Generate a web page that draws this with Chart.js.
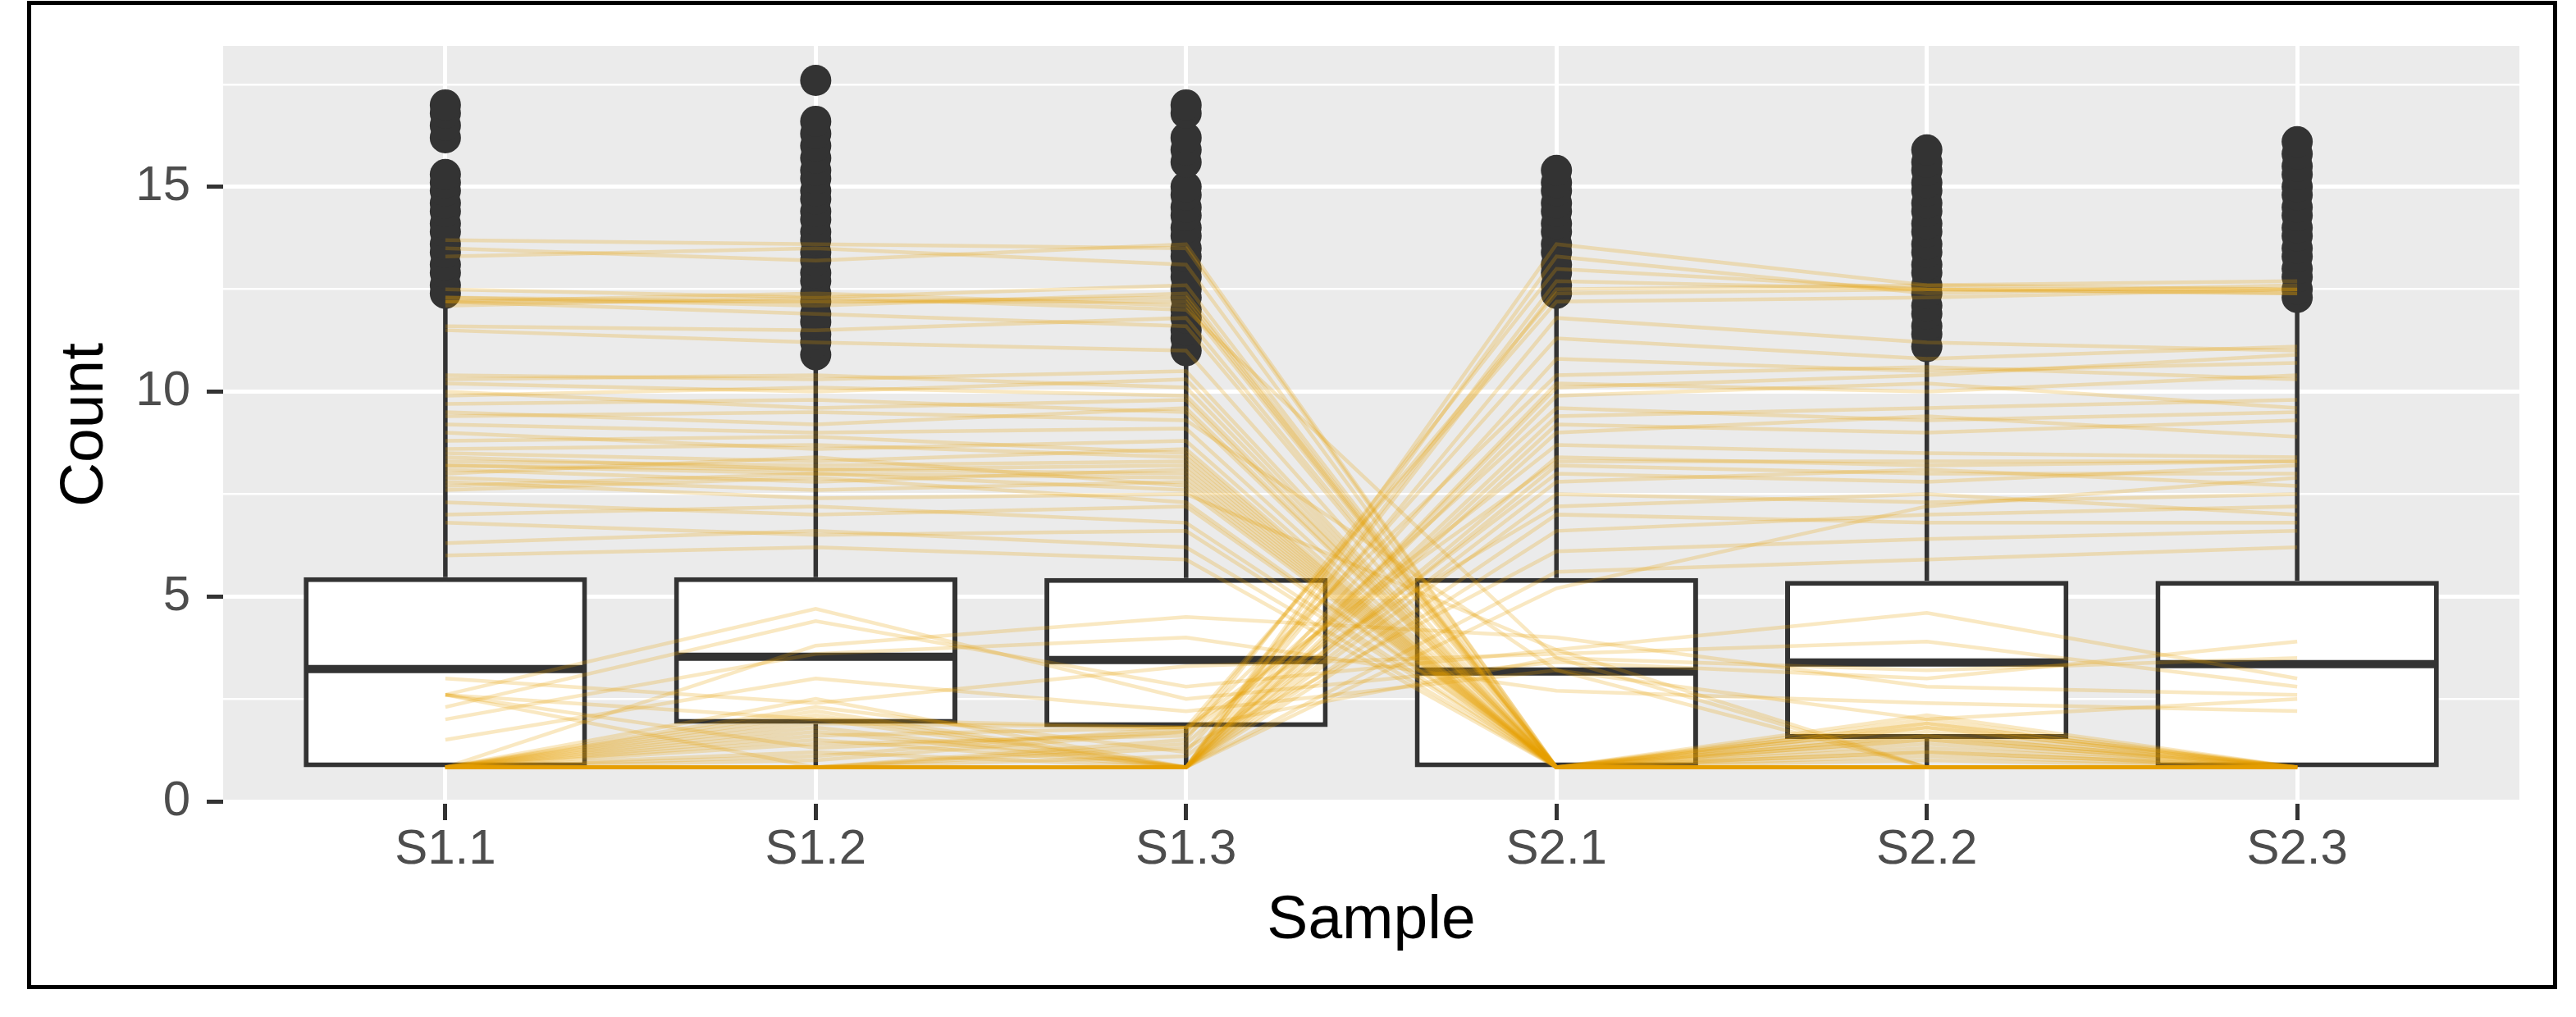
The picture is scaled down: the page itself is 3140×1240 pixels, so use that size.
<!DOCTYPE html>
<html>
<head>
<meta charset="utf-8">
<script src="https://cdn.jsdelivr.net/npm/chart.js@4.4.1/dist/chart.umd.min.js"></script>
<style>
  html, body { margin: 0; padding: 0; background: #FFFFFF; overflow: hidden; }
  #frame { position: absolute; left: 33px; top: 1px; width: 3084px; height: 1205px; box-sizing: border-box; border: 5px solid #000000; }
  #chart { position: absolute; left: 0; top: 0; width: 3140px; height: 1240px; }
</style>
</head>
<body>
<div id="frame"></div>
<canvas id="chart" width="3140" height="1240"></canvas>
<script>
// ---------- data ----------
const categories = ['S1.1', 'S1.2', 'S1.3', 'S2.1', 'S2.2', 'S2.3'];
const yMajorTicks = [0, 5, 10, 15];
const yMinorTicks = [2.5, 7.5, 12.5, 17.5];

// box statistics per sample
const whiskerLow = [0.83, 0.83, 0.83, 0.83, 0.83, 0.83];
const quartile1  = [0.83, 1.89, 1.81, 0.83, 1.52, 0.83];
const medians    = [3.23, 3.53, 3.45, 3.17, 3.39, 3.35];
const quartile3  = [5.47, 5.47, 5.45, 5.45, 5.38, 5.38];
const whiskerHigh = [12.1, 10.6, 10.7, 12.07, 10.83, 12.0];

// outliers per sample
const outliersS11 = [12.4, 12.6, 12.9, 13.1, 13.4, 13.6, 13.9, 14.1, 14.4, 14.6, 14.9, 15.1, 15.3, 16.2, 16.5, 16.8, 17.0];
const outliersS12 = [10.9, 11.2, 11.4, 11.7, 11.9, 12.2, 12.4, 12.7, 12.9, 13.2, 13.4, 13.7, 13.9, 14.2, 14.4, 14.7, 14.9, 15.2, 15.4, 15.7, 16.0, 16.3, 16.6, 17.6];
const outliersS13 = [11.0, 11.3, 11.5, 11.8, 12.0, 12.3, 12.5, 12.8, 13.0, 13.3, 13.5, 13.8, 14.0, 14.3, 14.5, 14.8, 15.0, 15.6, 15.9, 16.2, 16.8, 17.0];
const outliersS21 = [12.4, 12.6, 12.9, 13.1, 13.4, 13.6, 13.9, 14.1, 14.4, 14.6, 14.9, 15.1, 15.4];
const outliersS22 = [11.1, 11.4, 11.6, 11.9, 12.1, 12.4, 12.6, 12.9, 13.1, 13.4, 13.6, 13.9, 14.1, 14.4, 14.6, 14.9, 15.1, 15.4, 15.6, 15.9];
const outliersS23 = [12.3, 12.5, 12.8, 13.0, 13.3, 13.5, 13.8, 14.0, 14.3, 14.5, 14.8, 15.0, 15.3, 15.5, 15.8, 16.1];
const outliers = [outliersS11, outliersS12, outliersS13, outliersS21, outliersS22, outliersS23];

// gene profiles (one value per sample, S1.1 ... S2.3)
const genesDownInS2 = [
  [13.7, 13.6, 13.5, 0.83, 0.83, 0.83],
  [13.5, 13.2, 13.6, 0.83, 1.2, 0.83],
  [13.3, 13.5, 13.1, 0.83, 0.83, 0.83],
  [12.5, 12.3, 12.6, 0.83, 1.6, 0.83],
  [12.3, 12.2, 12.3, 0.83, 0.83, 0.83],
  [12.2, 12.4, 12.1, 0.83, 1.9, 0.83],
  [12.3, 12.1, 12.4, 0.83, 0.83, 0.83],
  [12.1, 12.3, 12.0, 3.5, 0.83, 0.83],
  [12.2, 11.9, 11.6, 0.83, 1.4, 0.83],
  [11.6, 11.5, 11.8, 0.83, 0.83, 0.83],
  [11.5, 11.2, 11.0, 0.83, 2.0, 0.83],
  [10.4, 10.3, 10.5, 0.83, 0.83, 0.83],
  [10.3, 10.4, 10.1, 0.83, 1.7, 0.83],
  [10.2, 10.0, 10.3, 0.83, 0.83, 0.83],
  [10.0, 9.6, 9.8, 0.83, 1.2, 0.83],
  [9.7, 9.8, 9.5, 0.83, 0.83, 0.83],
  [9.5, 9.2, 9.6, 0.83, 1.9, 0.83],
  [9.4, 9.5, 9.3, 3.2, 0.83, 0.83],
  [9.2, 9.0, 9.1, 0.83, 0.83, 0.83],
  [9.0, 8.6, 8.8, 0.83, 1.5, 0.83],
  [8.8, 8.9, 8.5, 0.83, 0.83, 0.83],
  [8.5, 8.3, 8.6, 0.83, 0.83, 0.83],
  [8.4, 8.1, 8.0, 0.83, 1.8, 0.83],
  [8.3, 8.2, 8.3, 0.83, 0.83, 0.83],
  [8.2, 8.0, 7.9, 0.83, 1.3, 0.83],
  [8.1, 7.8, 8.1, 0.83, 0.83, 0.83],
  [8.0, 8.4, 7.7, 0.83, 0.83, 0.83],
  [7.9, 7.6, 7.8, 0.83, 1.6, 0.83],
  [7.8, 7.4, 7.5, 3.7, 0.83, 0.83],
  [7.6, 7.9, 7.3, 0.83, 0.83, 0.83],
  [7.3, 7.0, 7.2, 0.83, 2.1, 0.83],
  [7.0, 7.2, 6.8, 0.83, 0.83, 0.83],
  [6.8, 6.5, 6.6, 0.83, 0.83, 0.83],
  [6.3, 6.6, 6.2, 0.83, 1.1, 0.83],
  [6.0, 6.2, 5.9, 0.83, 0.83, 0.83],
  [8.2, 8.1, 8.2, 0.83, 1.0, 0.83],
  [12.2, 12.2, 12.2, 0.83, 0.83, 0.83],
  [9.9, 10.1, 9.9, 0.83, 1.5, 0.83],
  [7.7, 8.0, 7.6, 0.83, 0.83, 0.83],
  [8.6, 8.7, 8.4, 0.83, 1.8, 0.83]
];
const genesUpInS2 = [
  [0.83, 0.83, 0.83, 13.6, 12.6, 12.5],
  [0.83, 1.2, 0.83, 13.3, 12.4, 12.6],
  [0.83, 0.83, 1.5, 13.0, 12.5, 12.4],
  [0.83, 2.0, 0.83, 12.7, 12.5, 12.5],
  [0.83, 0.83, 0.83, 12.5, 12.6, 12.7],
  [0.83, 1.6, 1.8, 12.2, 12.3, 12.5],
  [0.83, 0.83, 0.83, 11.8, 11.2, 11.0],
  [0.83, 2.3, 1.2, 11.3, 10.8, 11.1],
  [0.83, 0.83, 0.83, 10.8, 10.5, 10.7],
  [0.83, 1.0, 1.7, 10.4, 10.6, 10.3],
  [0.83, 0.83, 0.83, 10.2, 10.0, 10.4],
  [0.83, 1.8, 0.83, 9.9, 10.2, 9.6],
  [0.83, 0.83, 1.4, 9.6, 9.3, 9.5],
  [0.83, 2.5, 0.83, 9.2, 9.0, 9.3],
  [0.83, 0.83, 0.83, 9.0, 9.4, 8.9],
  [0.83, 1.4, 1.6, 8.7, 8.5, 8.4],
  [0.83, 0.83, 0.83, 8.4, 8.2, 8.3],
  [0.83, 2.1, 0.83, 8.2, 8.0, 8.0],
  [0.83, 0.83, 1.1, 8.0, 7.8, 8.2],
  [0.83, 1.7, 0.83, 7.8, 8.1, 7.7],
  [0.83, 0.83, 0.83, 7.5, 7.3, 7.5],
  [0.83, 1.1, 1.8, 7.2, 7.5, 7.0],
  [0.83, 0.83, 0.83, 7.0, 6.8, 6.8],
  [0.83, 2.2, 0.83, 6.6, 7.0, 7.2],
  [0.83, 0.83, 1.3, 6.1, 6.4, 6.6],
  [0.83, 1.5, 0.83, 5.6, 5.9, 6.2],
  [2.6, 0.83, 0.83, 9.4, 9.6, 9.8],
  [2.6, 1.3, 1.7, 12.4, 12.5, 12.4],
  [0.83, 0.83, 0.83, 5.2, 7.2, 7.9],
  [0.83, 1.9, 1.8, 8.3, 8.3, 8.3],
  [0.83, 0.83, 0.83, 10.1, 10.4, 10.9]
];
const genesMidRange = [
  [2.6, 4.7, 2.5, 3.4, 3.0, 3.9],
  [2.3, 4.4, 2.8, 3.7, 4.6, 3.0],
  [2.0, 3.6, 4.0, 2.7, 2.4, 2.2],
  [3.0, 2.4, 3.3, 3.6, 3.9, 2.8],
  [1.5, 3.0, 2.2, 3.2, 2.0, 2.5],
  [2.6, 2.0, 1.8, 3.5, 3.2, 3.5],
  [0.83, 3.8, 4.5, 4.0, 2.8, 2.6]
];

// ---------- styling ----------
const FONT = "'Liberation Sans', Arial, Helvetica, sans-serif";
const BOX_HALF = 0.38;
const LINE_COLOR = 'rgba(230, 159, 0, 0.24)';
const DARK = '#333333';

// ---------- datasets built from the arrays ----------
const geneDatasets = [...genesDownInS2, ...genesUpInS2, ...genesMidRange].map(vals => ({
  type: 'line',
  data: vals.map((v, i) => ({ x: i, y: v })),
  borderColor: LINE_COLOR,
  borderWidth: 4.5,
  pointRadius: 0,
  fill: false,
  tension: 0,
  order: 0
}));

const outlierData = [];
outliers.forEach((arr, i) => arr.forEach(v => outlierData.push({ x: i, y: v })));

const medianData = [];
const whiskerData = [];
categories.forEach((c, i) => {
  medianData.push({ x: i - BOX_HALF, y: medians[i] }, { x: i + BOX_HALF, y: medians[i] }, { x: i, y: null });
  whiskerData.push({ x: i, y: quartile3[i] }, { x: i, y: whiskerHigh[i] }, { x: i, y: null });
  whiskerData.push({ x: i, y: whiskerLow[i] }, { x: i, y: quartile1[i] }, { x: i, y: null });
});

const boxData = categories.map((c, i) => ({ x: i, y: [quartile1[i], quartile3[i]] }));

const panelBackground = {
  id: 'panelBackground',
  beforeDraw(chart) {
    const { ctx, chartArea } = chart;
    ctx.save();
    ctx.fillStyle = '#EBEBEB';
    ctx.fillRect(chartArea.left, chartArea.top, chartArea.right - chartArea.left, chartArea.bottom - chartArea.top);
    ctx.restore();
  }
};

const yTicksAll = [...yMajorTicks, ...yMinorTicks].sort((a, b) => a - b);
const isMajor = v => yMajorTicks.includes(v);

new Chart(document.getElementById('chart'), {
  type: 'scatter',
  data: {
    datasets: [
      ...geneDatasets,
      {
        type: 'scatter',
        data: outlierData,
        pointRadius: 19,
        pointBackgroundColor: DARK,
        pointBorderWidth: 0,
        order: 1
      },
      {
        type: 'line',
        data: medianData,
        borderColor: DARK,
        borderWidth: 10,
        pointRadius: 0,
        spanGaps: false,
        order: 2
      },
      {
        type: 'bar',
        data: boxData,
        backgroundColor: '#FFFFFF',
        borderColor: DARK,
        borderWidth: 6,
        borderSkipped: false,
        barPercentage: 0.765,
        categoryPercentage: 1,
        order: 3
      },
      {
        type: 'line',
        data: whiskerData,
        borderColor: DARK,
        borderWidth: 5.5,
        pointRadius: 0,
        spanGaps: false,
        order: 4
      }
    ]
  },
  options: {
    responsive: false,
    animation: false,
    devicePixelRatio: 1,
    events: [],
    layout: { padding: { left: 40, top: 40, right: 69, bottom: 60 } },
    plugins: { legend: { display: false }, tooltip: { enabled: false } },
    scales: {
      x: {
        type: 'linear',
        min: -0.6,
        max: 5.6,
        offset: false,
        afterBuildTicks: s => { s.ticks = categories.map((c, i) => ({ value: i })); },
        afterFit: s => { s.height = 200; },
        ticks: {
          callback: v => categories[v] ?? '',
          font: { family: FONT, size: 60 },
          color: '#4D4D4D',
          padding: 0,
          maxRotation: 0,
          autoSkip: false
        },
        grid: {
          offset: false,
          color: '#FFFFFF',
          lineWidth: 5,
          drawTicks: true,
          tickLength: 20,
          tickColor: DARK,
          tickWidth: 5
        },
        border: { display: false },
        title: {
          display: true,
          text: 'Sample',
          font: { family: FONT, size: 75 },
          color: '#000000',
          padding: { top: 0, bottom: 12 }
        }
      },
      y: {
        type: 'linear',
        min: -0.06,
        max: 18.44,
        afterBuildTicks: s => { s.ticks = yTicksAll.map(v => ({ value: v })); },
        afterFit: s => { s.width = 232; },
        ticks: {
          callback: v => isMajor(v) ? String(v) : '',
          font: { family: FONT, size: 60 },
          color: '#4D4D4D',
          padding: 20
        },
        grid: {
          color: '#FFFFFF',
          lineWidth: ctx => isMajor(ctx.tick.value) ? 5 : 2.5,
          drawTicks: true,
          tickLength: 20,
          tickColor: ctx => isMajor(ctx.tick.value) ? DARK : 'rgba(0,0,0,0)',
          tickWidth: 5
        },
        border: { display: false },
        title: {
          display: true,
          text: 'Count',
          font: { family: FONT, size: 75 },
          color: '#000000',
          padding: { top: 19, bottom: 0 }
        }
      }
    }
  },
  plugins: [panelBackground]
});
</script>
</body>
</html>
